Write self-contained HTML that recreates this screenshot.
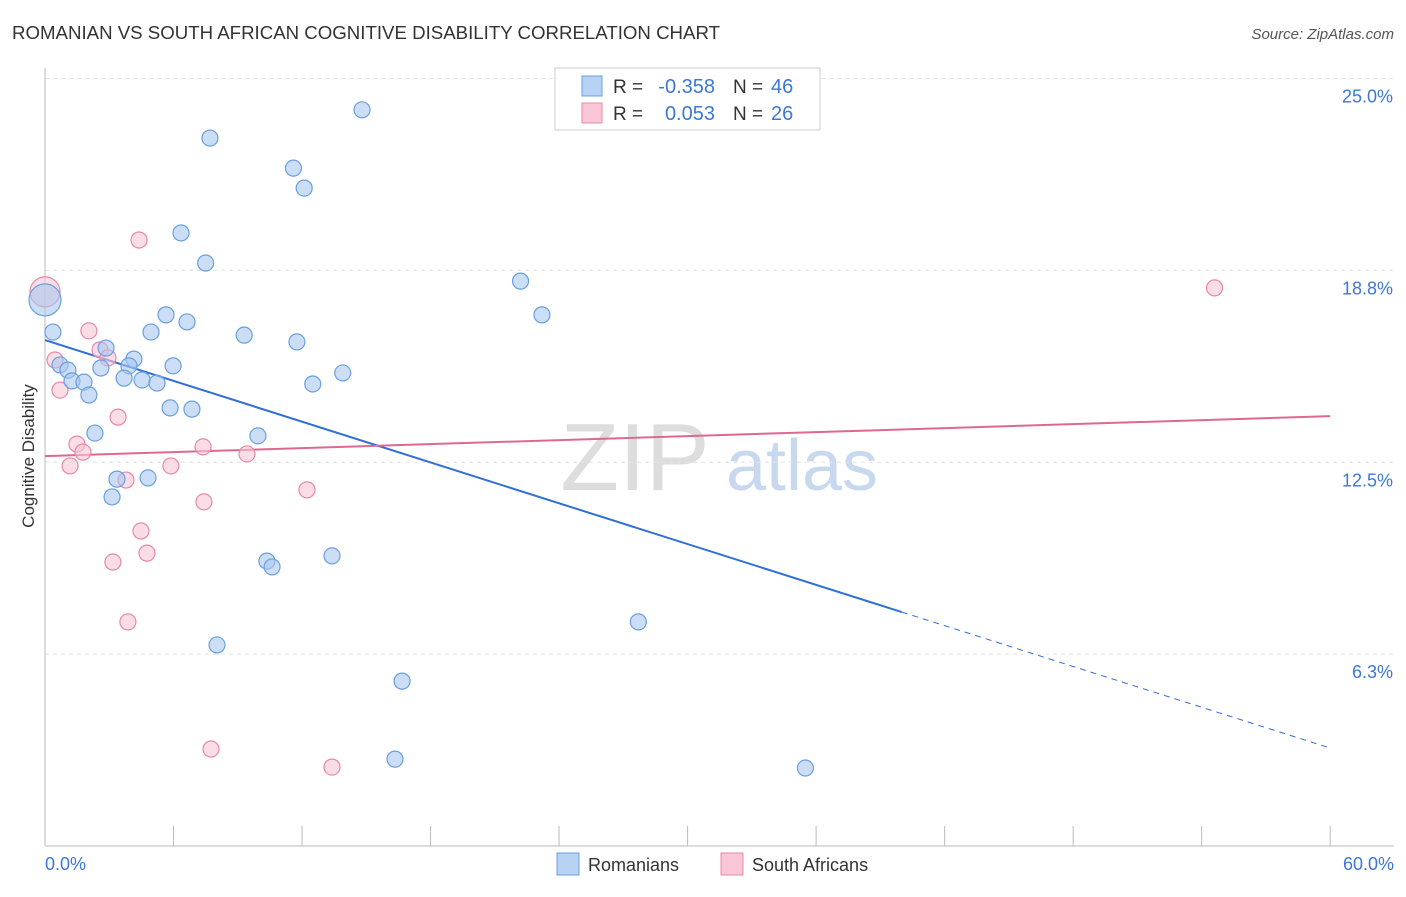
<!DOCTYPE html>
<html><head><meta charset="utf-8"><style>
body{margin:0;background:#fff;font-family:"Liberation Sans",sans-serif;}
svg text{font-family:"Liberation Sans",sans-serif;}
</style></head><body>
<svg id="chart" width="1406" height="892" viewBox="0 0 1406 892">
<text x="12" y="39" font-size="18" fill="#333" textLength="708" lengthAdjust="spacingAndGlyphs">ROMANIAN VS SOUTH AFRICAN COGNITIVE DISABILITY CORRELATION CHART</text>
<text x="1394" y="39" font-size="15" fill="#555" text-anchor="end" font-style="italic">Source: ZipAtlas.com</text>
<text x="635" y="490" font-size="96" fill="#ddd" font-family="Liberation Serif" text-anchor="middle">ZIP</text>
<text x="802" y="490" font-size="72" fill="#c8d8ee" text-anchor="middle">atlas</text>
<g id="grid"></g><g id="axes"></g><g id="lines"></g><g id="pts"></g>
<text transform="translate(34,456) rotate(-90)" font-size="17" fill="#333" text-anchor="middle">Cognitive Disability</text>
<text x="45" y="870" font-size="18" fill="#3b78d8">0.0%</text>
<text x="1394" y="870" font-size="18" fill="#3b78d8" text-anchor="end">60.0%</text>
<g>
<rect x="555" y="68" width="265" height="62" fill="#fff" stroke="#ccc"/>
<rect x="582" y="76" width="20" height="20" fill="#b8d2f4" stroke="#6a9fe0"/>
<rect x="582" y="103" width="20" height="20" fill="#f8c6d6" stroke="#e888a8"/>
<text x="613" y="93" font-size="19" fill="#333">R =</text>
<text x="715" y="93" font-size="20" fill="#3b78d8" text-anchor="end">-0.358</text>
<text x="733" y="93" font-size="19" fill="#333">N =</text>
<text x="771" y="93" font-size="20" fill="#3b78d8">46</text>
<text x="613" y="120" font-size="19" fill="#333">R =</text>
<text x="715" y="120" font-size="20" fill="#3b78d8" text-anchor="end">0.053</text>
<text x="733" y="120" font-size="19" fill="#333">N =</text>
<text x="771" y="120" font-size="20" fill="#3b78d8">26</text>
</g>
<g>
<rect x="557" y="853" width="22" height="22" fill="#b8d2f4" stroke="#6a9fe0"/>
<text x="588" y="871" font-size="18" fill="#333">Romanians</text>
<rect x="721" y="853" width="22" height="22" fill="#f8c6d6" stroke="#e888a8"/>
<text x="752" y="871" font-size="18" fill="#333">South Africans</text>
</g>
</svg>
<script>
const yTicks=[6.25,12.5,18.75,25];
const yTickLabels=["6.3%","12.5%","18.8%","25.0%"];
const blueX=[14.8,7.7,11.6,12.1,6.35,7.5,22.2,23.2,0.37,5.65,6.63,4.95,9.3,11.76,2.85,4.15,0.7,1.07,2.61,3.92,5.98,13.9,3.69,4.53,5.23,1.26,1.82,12.5,2.05,5.84,6.86,2.33,9.94,3.36,4.81,3.13,10.36,10.6,13.4,27.7,8.03,16.67,16.34,35.5];
const blueY=[23.98,23.06,22.08,21.43,19.97,18.99,18.40,17.30,16.74,17.30,17.07,16.74,16.64,16.42,16.22,15.86,15.67,15.50,15.57,15.64,15.64,15.41,15.24,15.18,15.08,15.15,15.11,15.05,14.69,14.27,14.23,13.45,13.36,11.95,11.99,11.37,9.28,9.09,9.45,7.30,6.55,5.37,2.83,2.54];
const pinkX=[4.39,54.6,2.05,0.47,2.57,2.94,0.7,3.41,1.49,1.77,1.17,7.38,9.43,5.88,3.78,12.23,7.42,4.48,4.76,3.17,3.87,7.75,13.4];
const pinkY=[19.74,18.18,16.78,15.83,16.16,15.90,14.85,13.97,13.09,12.83,12.38,13.0,12.77,12.38,11.92,11.60,11.21,10.26,9.54,9.25,7.30,3.16,2.57];
const bigBlue=[0,17.79];const bigPink=[0,18.05];
const blueTrend=[16.48,-0.2215];const pinkTrend=[12.7,0.0217];
const blueSolidEnd=40;
const X=v=>45+v*21.42, Y=v=>846-v*30.7;
const NS="http://www.w3.org/2000/svg";
function mk(t,a,p){const e=document.createElementNS(NS,t);for(const k in a)e.setAttribute(k,a[k]);document.getElementById(p).appendChild(e);return e;}
yTicks.forEach((t,i)=>{
 const g=mk("line",{x1:45,x2:1394,y1:Y(t),y2:Y(t),stroke:"#e4e4e4","stroke-dasharray":"4,4"},"grid");
 
 
 const l=mk("text",{x:1393,y:Y(t)+24,"font-size":18,fill:"#3b78d8","text-anchor":"end"},"grid");
 l.textContent=yTickLabels[i];
 
 
});
const ax=mk("line",{x1:45,x2:1394,y1:846,y2:846,stroke:"#bbb"},"axes");


const ay=mk("line",{x1:45,x2:45,y1:68,y2:846,stroke:"#bbb"},"axes");


for(let i=0;i<=10;i++){const t=mk("line",{x1:X(i*6),x2:X(i*6),y1:826,y2:846,stroke:"#bbb"},"axes");
 
 }
function pt(x,y,r,fill,stroke,name){const c=mk("circle",{cx:X(x),cy:Y(y),r:r,fill:fill,"fill-opacity":0.6,stroke:stroke,"stroke-width":1.2},"pts");
 
 }
pt(bigPink[0],bigPink[1],15,"#f8c6d6","#e888a8","south-african-point-large");
pt(bigBlue[0],bigBlue[1],16,"#a8c8f0","#6a9fe0","romanian-point-large");
pinkX.forEach((x,i)=>pt(x,pinkY[i],8,"#f8c6d6","#e888a8","south-african-point"));
blueX.forEach((x,i)=>pt(x,blueY[i],8,"#a8c8f0","#6a9fe0","romanian-point"));
const b1=mk("line",{x1:X(0),y1:Y(blueTrend[0]),x2:X(blueSolidEnd),y2:Y(blueTrend[0]+blueTrend[1]*blueSolidEnd),stroke:"#2f6fd6","stroke-width":2},"lines");


const b2=mk("line",{x1:X(blueSolidEnd),y1:Y(blueTrend[0]+blueTrend[1]*blueSolidEnd),x2:X(60),y2:Y(blueTrend[0]+blueTrend[1]*60),stroke:"#2f6fd6","stroke-width":1,"stroke-dasharray":"6,5"},"lines");


const p1=mk("line",{x1:X(0),y1:Y(pinkTrend[0]),x2:X(60),y2:Y(pinkTrend[0]+pinkTrend[1]*60),stroke:"#e06890","stroke-width":2},"lines");


</script>
</body></html>
